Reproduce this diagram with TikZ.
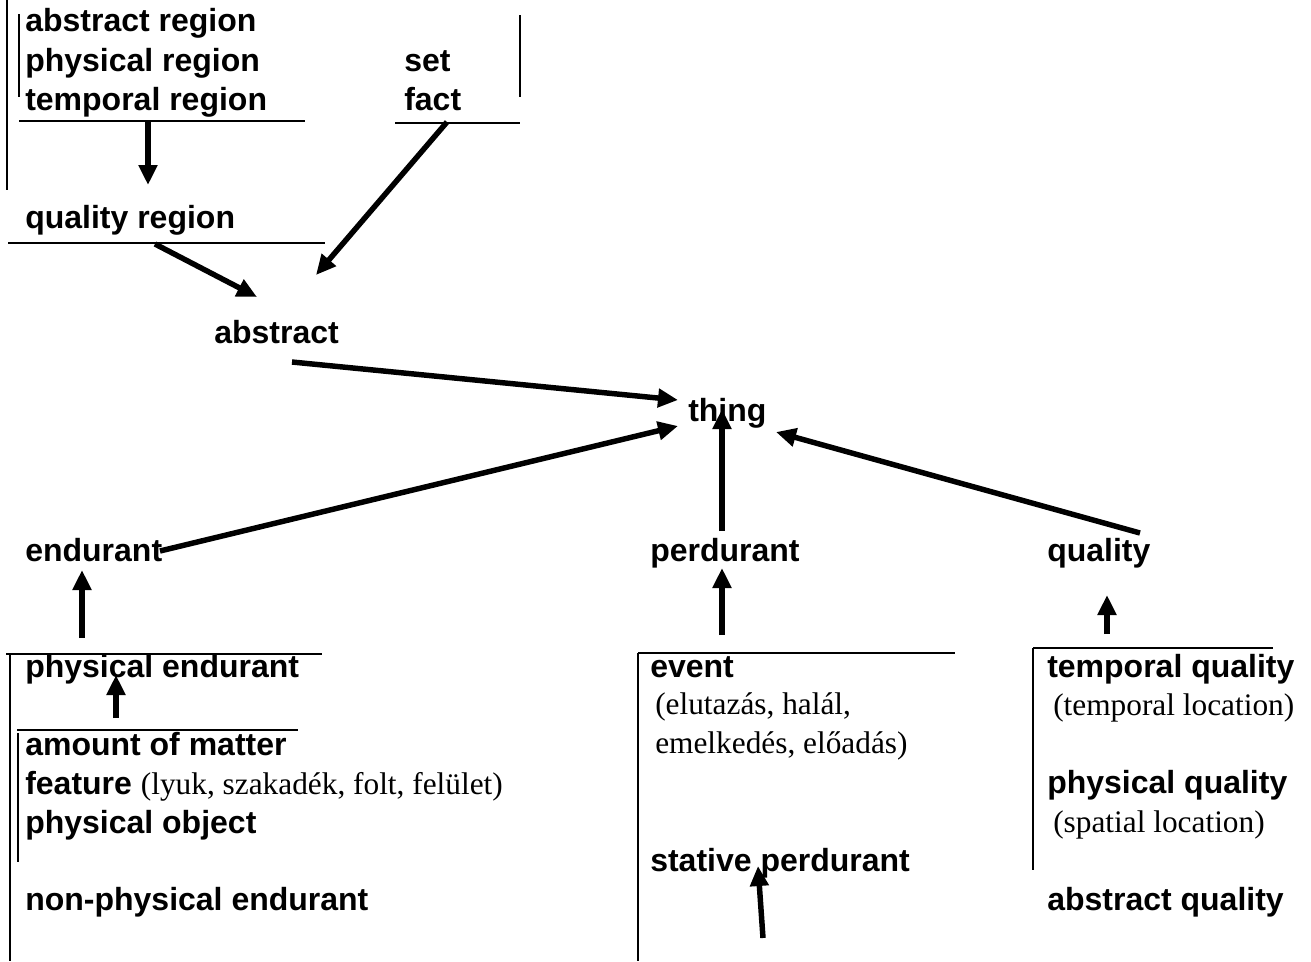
\documentclass[tikz,border=0pt]{standalone}
\usepackage{fontspec}
\setmainfont{Liberation Serif}
\setsansfont{Liberation Sans}
\usetikzlibrary{arrows.meta}
\tikzset{
  lbl/.style={anchor=base west, inner sep=0pt, font=\fontsize{24}{28}\selectfont\sffamily\bfseries},
  note/.style={anchor=base west, inner sep=0pt, font=\fontsize{23.5}{28}\selectfont\rmfamily},
  rule/.style={line width=1.2pt},
  isa/.style={line width=4.1pt, -{Triangle[length=15pt,width=13.5pt]}}
}
\begin{document}
\begin{tikzpicture}[x=0.75pt,y=-0.75pt]
\useasboundingbox (0,0) rectangle (1311,961);
% ---- top left group
\node[lbl] (absreg) at (25,31) {abstract region};
\node[lbl] (physreg) at (25,71) {physical region};
\node[lbl] (tempreg) at (25,110) {temporal region};
\node[lbl] (set) at (404,71) {set};
\node[lbl] (fact) at (404,110) {fact};
\node[lbl] (qualreg) at (25,228) {quality region};
\node[lbl] (abstract) at (214,343) {abstract};
\node[lbl] (thing) at (688,421) {thing};
\node[lbl] (endurant) at (25,561) {endurant};
\node[lbl] (perdurant) at (650,561) {perdurant};
\node[lbl] (quality) at (1047,561) {quality};
% ---- bottom left
\node[lbl] (physend) at (25,677) {physical endurant};
\node[lbl] (matter) at (25,755) {amount of matter};
\node[lbl] (feature) at (25,794) {feature {\fontsize{23.5}{28}\selectfont\rmfamily\mdseries(lyuk, szakadék, folt, felület)}};
\node[lbl] (physobj) at (25,833) {physical object};
\node[lbl] (nonphys) at (25,910) {non-physical endurant};
% ---- bottom middle
\node[lbl] (event) at (650,677) {event};
\node[note] (ev1) at (655,714) {(elutazás, halál,};
\node[note] (ev2) at (655,753) {emelkedés, előadás)};
\node[lbl] (stative) at (650,871) {stative perdurant};
% ---- bottom right
\node[lbl] (tempq) at (1047,677) {temporal quality};
\node[note] (tempqn) at (1053,715) {(temporal location)};
\node[lbl] (physq) at (1047,793) {physical quality};
\node[note] (physqn) at (1053,832) {(spatial location)};
\node[lbl] (absq) at (1047,910) {abstract quality};
% ---- rules (brackets)
\draw[rule] (7,0) -- (7,190);
\draw[rule] (19,14) -- (19,97);
\draw[rule] (19,121) -- (305,121);
\draw[rule] (520,15) -- (520,97);
\draw[rule] (395,123) -- (520,123);
\draw[rule] (8,243) -- (325,243);
\draw[rule] (6,654) -- (322,654);
\draw[rule] (10,654) -- (10,961);
\draw[rule] (17,730) -- (298,730);
\draw[rule] (18,733) -- (18,862);
\draw[rule] (638,653) -- (955,653);
\draw[rule] (638,653) -- (638,961);
\draw[rule] (1033,648) -- (1273,648);
\draw[rule] (1033,648) -- (1033,870);
% ---- connector end points
\coordinate (tr-s) at (148,122);
\coordinate (qr-n) at (148,185);
\coordinate (qr-s) at (155,244);
\coordinate (ab-nw) at (257,297);
\coordinate (fa-s) at (447,122);
\coordinate (ab-ne) at (316,275);
\coordinate (ab-s) at (292,362);
\coordinate (th-w) at (678,400);
\coordinate (en-e) at (160,551);
\coordinate (th-sw) at (678,426);
\coordinate (pe-n) at (722,531);
\coordinate (th-s) at (722,409);
\coordinate (qu-n) at (1140,533);
\coordinate (th-se) at (776,432);
\coordinate (pen-n) at (82,638);
\coordinate (en-s) at (82,570);
\coordinate (ev-n) at (722,635);
\coordinate (pe-s) at (722,568);
\coordinate (tq-n) at (1107,634);
\coordinate (qu-s) at (1107,595);
\coordinate (ma-n) at (116,718);
\coordinate (pen-s) at (116,675);
\coordinate (st-below) at (763,938);
\coordinate (st-n) at (758,866);
% ---- arrows
\draw[isa] (tr-s) -- (qr-n);
\draw[isa] (qr-s) -- (ab-nw);
\draw[isa] (fa-s) -- (ab-ne);
\draw[isa] (ab-s) -- (th-w);
\draw[isa] (en-e) -- (th-sw);
\draw[isa] (pe-n) -- (th-s);
\draw[isa] (qu-n) -- (th-se);
\draw[isa] (pen-n) -- (en-s);
\draw[isa] (ev-n) -- (pe-s);
\draw[isa] (tq-n) -- (qu-s);
\draw[isa] (ma-n) -- (pen-s);
\draw[isa] (st-below) -- (st-n);
\end{tikzpicture}
\end{document}
